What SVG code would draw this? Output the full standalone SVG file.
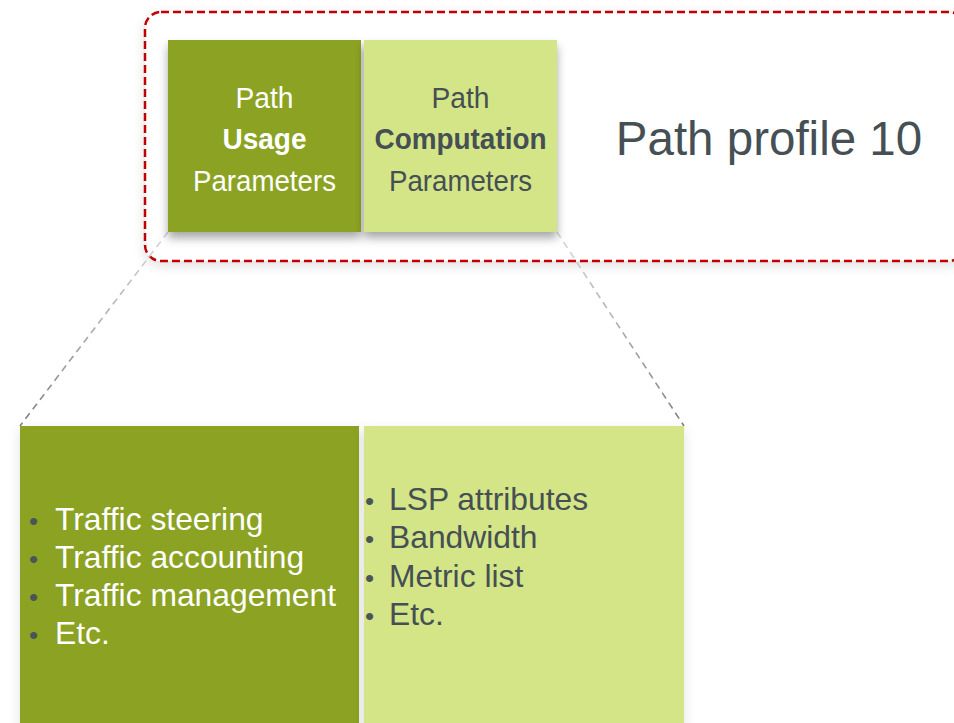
<svg xmlns="http://www.w3.org/2000/svg" width="954" height="723" viewBox="0 0 954 723">
<defs>
<style>
.t{font-family:"Liberation Sans",Arial,sans-serif}
.w{fill:#ffffff}
.g{fill:#454f54}
.dk{fill:#8ba224}
.lt{fill:#d4e587}
.bul{fill:#4a5459}
</style>
<linearGradient id="lg" gradientUnits="userSpaceOnUse" x1="0" y1="232" x2="0" y2="426">
<stop offset="0" stop-color="#d8d8d8"/>
<stop offset="1" stop-color="#7f7f7f"/>
</linearGradient>
<filter id="sh" x="-20%" y="-20%" width="140%" height="150%">
<feDropShadow dx="0" dy="6" stdDeviation="5" flood-color="#000" flood-opacity="0.35"/>
</filter>
<filter id="sh2" x="-10%" y="-20%" width="120%" height="150%">
<feDropShadow dx="0" dy="4" stdDeviation="6" flood-color="#000" flood-opacity="0.12"/>
</filter>
</defs>
<rect width="954" height="723" fill="#ffffff"/>
<g id="profile">
<rect x="145" y="12" width="820" height="249" rx="16" fill="#ffffff" stroke="#c00000" stroke-width="2.5" stroke-dasharray="8 4" filter="url(#sh2)"/>
<text class="t g" x="769" y="155" font-size="47.5" text-anchor="middle">Path profile 10</text>
</g>
<g id="connectors" fill="none" stroke="url(#lg)" stroke-width="1.6" stroke-dasharray="7 5">
<line x1="168" y1="232" x2="20" y2="426"/>
<line x1="557" y1="232" x2="684" y2="426"/>
</g>
<g id="usage-top">
<rect class="dk" x="168" y="40" width="193" height="192" filter="url(#sh)"/>
<text class="t w" x="264.5" font-size="30" text-anchor="middle"><tspan x="264.5" y="108" textLength="58" lengthAdjust="spacingAndGlyphs">Path</tspan><tspan x="264.5" y="149" font-weight="bold" textLength="84" lengthAdjust="spacingAndGlyphs">Usage</tspan><tspan x="264.5" y="191" textLength="143" lengthAdjust="spacingAndGlyphs">Parameters</tspan></text>
</g>
<g id="computation-top">
<rect class="lt" x="364" y="40" width="193" height="192" filter="url(#sh)"/>
<text class="t g" x="460.5" font-size="30" text-anchor="middle"><tspan x="460.5" y="108" textLength="58" lengthAdjust="spacingAndGlyphs">Path</tspan><tspan x="460.5" y="149" font-weight="bold" textLength="172" lengthAdjust="spacingAndGlyphs">Computation</tspan><tspan x="460.5" y="191" textLength="143" lengthAdjust="spacingAndGlyphs">Parameters</tspan></text>
</g>
<g id="usage-detail">
<rect class="dk" x="20" y="426" width="339" height="310" filter="url(#sh2)"/>
<g class="t" font-size="31.8">
<text class="bul" x="29" y="530" font-size="26">•</text>
<text class="w" x="55" y="530">Traffic steering</text>
<text class="bul" x="29" y="568" font-size="26">•</text>
<text class="w" x="55" y="568">Traffic accounting</text>
<text class="bul" x="29" y="606" font-size="26">•</text>
<text class="w" x="55" y="606">Traffic management</text>
<text class="bul" x="29" y="644" font-size="26">•</text>
<text class="w" x="55" y="644">Etc.</text>
</g>
</g>
<g id="computation-detail">
<rect class="lt" x="364" y="426" width="320" height="310" filter="url(#sh2)"/>
<g class="t" font-size="31.8">
<text class="bul" x="365" y="510" font-size="26">•</text>
<text class="g" x="389" y="510">LSP attributes</text>
<text class="bul" x="365" y="548" font-size="26">•</text>
<text class="g" x="389" y="548">Bandwidth</text>
<text class="bul" x="365" y="587" font-size="26">•</text>
<text class="g" x="389" y="587">Metric list</text>
<text class="bul" x="365" y="625" font-size="26">•</text>
<text class="g" x="389" y="625">Etc.</text>
</g>
</g>
</svg>
